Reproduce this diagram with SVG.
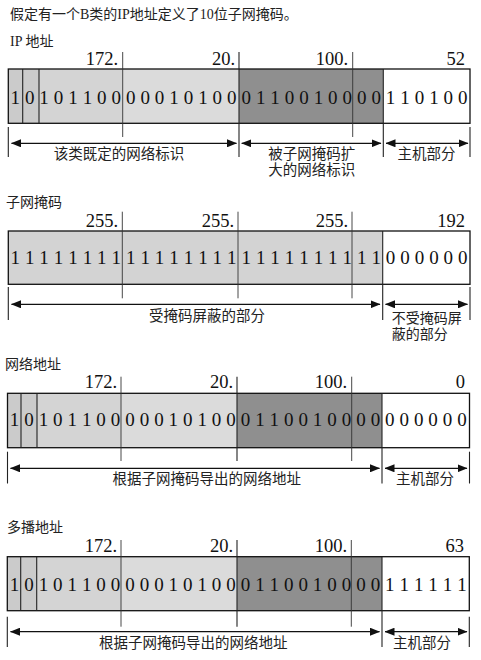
<svg xmlns="http://www.w3.org/2000/svg" width="481" height="660" viewBox="0 0 481 660">
<defs>
<style>
.cap{font-family:"Liberation Serif","Noto Sans CJK SC",serif;font-size:14px;fill:#222}
.lbl{font-family:"Noto Sans CJK SC",sans-serif;font-size:14.5px;fill:#222;text-anchor:middle}
.lbl2{font-family:"Noto Sans CJK SC",sans-serif;font-size:14px;fill:#222}
.num{font-family:"Liberation Serif",serif;font-size:18.5px;fill:#111;text-anchor:end}
.bits{font-family:"Liberation Serif",serif;font-size:19px;fill:#111;text-anchor:middle}
.box{fill:none;stroke:#111;stroke-width:1.3}
.div{stroke:#222;stroke-width:1.1}
.thin{stroke:#333;stroke-width:0.9}
.arr{stroke:#111;stroke-width:1.2;fill:none;marker-start:url(#ah);marker-end:url(#ah)}
.l1{fill:#cbcbcb}.l2{fill:#d4d4d4}.l3{fill:#dbdbdb}.dk{fill:#8f8f8f}.wh{fill:#fff}.mk{fill:#d3d3d3}
</style>
<marker id="ah" viewBox="0 0 10 8" refX="9.5" refY="4" markerWidth="10" markerHeight="8" markerUnits="userSpaceOnUse" orient="auto-start-reverse">
<path d="M0,0 L10,4 L0,8 Z" fill="#111"/>
</marker>
</defs>
<rect width="481" height="660" fill="#fff"/>
<text class="cap" x="10" y="19">假定有一个B类的IP地址定义了10位子网掩码。</text>

<g id="ip-address">
<text class="cap" x="10" y="46">IP 地址</text>
<text class="num" x="118" y="65">172.</text>
<text class="num" x="235" y="65">20.</text>
<text class="num" x="348" y="65">100.</text>
<text class="num" x="465" y="65">52</text>
<rect class="l1" x="8.3" y="69" width="30.7" height="54.3"/>
<rect class="l2" x="39" y="69" width="83.7" height="54.3"/>
<rect class="l3" x="122.7" y="69" width="116.3" height="54.3"/>
<rect class="dk" x="239" y="69" width="144.3" height="54.3"/>
<rect class="wh" x="383.3" y="69" width="86.7" height="54.3"/>
<rect class="box" x="8.3" y="69" width="461.7" height="54.3"/>
<line class="div" x1="22.7" y1="69" x2="22.7" y2="123.3"/>
<line class="div" x1="39" y1="69" x2="39" y2="123.3"/>
<line class="thin" x1="122.7" y1="52" x2="122.7" y2="137"/>
<line class="div" x1="239" y1="52" x2="239" y2="157"/>
<line class="thin" x1="352.7" y1="52" x2="352.7" y2="137"/>
<line class="div" x1="383.3" y1="69" x2="383.3" y2="157"/>
<line class="div" x1="8.3" y1="127" x2="8.3" y2="157"/>
<line class="div" x1="470" y1="127" x2="470" y2="157"/>
<text class="bits" y="103.5" x="15.2 29.7 44.1 58.5 73 87.4 101.8 116.3 130.7 145.2 159.6 174 188.5 202.9 217.3 231.8 246.2 260.7 275.1 289.5 304 318.4 332.8 347.3 361.7 376.2 390.6 405 419.5 433.9 448.3 462.8">10101100000101000110010000110100</text>
<text class="lbl" x="119" y="159">该类既定的网络标识</text>
<text class="lbl" x="311.7" y="158.5"><tspan x="311.7">被子网掩码扩</tspan><tspan x="311.7" dy="16.5">大的网络标识</tspan></text>
<text class="lbl" x="426.5" y="159">主机部分</text>
</g>

<g id="subnet-mask">
<text class="cap" x="6" y="207">子网掩码</text>
<text class="num" x="118" y="226.7">255.</text>
<text class="num" x="234" y="226.7">255.</text>
<text class="num" x="348" y="226.7">255.</text>
<text class="num" x="465" y="226.7">192</text>
<rect class="mk" x="8.3" y="231" width="374.4" height="53.3"/>
<rect class="wh" x="382.7" y="231" width="87.3" height="53.3"/>
<rect class="box" x="8.3" y="231" width="461.7" height="53.3"/>
<line class="thin" x1="122.3" y1="211.7" x2="122.3" y2="298.3"/>
<line class="thin" x1="238" y1="211.7" x2="238" y2="298.3"/>
<line class="thin" x1="352" y1="211.7" x2="352" y2="298.3"/>
<line class="div" x1="382.7" y1="231" x2="382.7" y2="320"/>
<line class="div" x1="8.3" y1="287" x2="8.3" y2="320"/>
<line class="div" x1="470" y1="287" x2="470" y2="320"/>
<text class="bits" y="264.3" x="15.2 29.7 44.1 58.5 73 87.4 101.8 116.3 130.7 145.2 159.6 174 188.5 202.9 217.3 231.8 246.2 260.7 275.1 289.5 304 318.4 332.8 347.3 361.7 376.2 390.6 405 419.5 433.9 448.3 462.8">11111111111111111111111111000000</text>
<text class="lbl" x="207" y="321">受掩码屏蔽的部分</text>
<text class="lbl2" x="391.7" y="322.5"><tspan x="391.7">不受掩码屏</tspan><tspan x="391.7" dy="16.5">蔽的部分</tspan></text>
</g>

<g id="network-address">
<text class="cap" x="5" y="368.5">网络地址</text>
<text class="num" x="117" y="388.3">172.</text>
<text class="num" x="233" y="388.3">20.</text>
<text class="num" x="347" y="388.3">100.</text>
<text class="num" x="465" y="388.3">0</text>
<rect class="l1" x="7.5" y="393.3" width="29.5" height="54.4"/>
<rect class="l2" x="37" y="393.3" width="84" height="54.4"/>
<rect class="l3" x="121" y="393.3" width="116" height="54.4"/>
<rect class="dk" x="237" y="393.3" width="145" height="54.4"/>
<rect class="wh" x="382" y="393.3" width="87.5" height="54.4"/>
<rect class="box" x="7.5" y="393.3" width="462" height="54.4"/>
<line class="div" x1="21" y1="393.3" x2="21" y2="447.7"/>
<line class="div" x1="37" y1="393.3" x2="37" y2="447.7"/>
<line class="thin" x1="121" y1="376.7" x2="121" y2="461"/>
<line class="div" x1="237" y1="376.7" x2="237" y2="461"/>
<line class="thin" x1="351.7" y1="376.7" x2="351.7" y2="461"/>
<line class="div" x1="382" y1="393.3" x2="382" y2="483.5"/>
<line class="div" x1="7.5" y1="451.7" x2="7.5" y2="483.5"/>
<line class="div" x1="469.5" y1="451.7" x2="469.5" y2="483.5"/>
<text class="bits" y="426" x="14.5 29 43.4 57.8 72.3 86.7 101.1 115.6 130 144.4 158.9 173.3 187.7 202.2 216.6 231 245.5 259.9 274.3 288.8 303.2 317.6 332.1 346.5 360.9 375.4 389.8 404.2 418.7 433.1 447.5 462">10101100000101000110010000000000</text>
<text class="lbl" x="206.7" y="484">根据子网掩码导出的网络地址</text>
<text class="lbl" x="425" y="484">主机部分</text>
</g>

<g id="multicast-address">
<text class="cap" x="7" y="532">多播地址</text>
<text class="num" x="117" y="551.7">172.</text>
<text class="num" x="233" y="551.7">20.</text>
<text class="num" x="347" y="551.7">100.</text>
<text class="num" x="464" y="551.7">63</text>
<rect class="l1" x="7.3" y="556.7" width="29.4" height="54"/>
<rect class="l2" x="36.7" y="556.7" width="84.3" height="54"/>
<rect class="l3" x="121" y="556.7" width="116" height="54"/>
<rect class="dk" x="237" y="556.7" width="145" height="54"/>
<rect class="wh" x="382" y="556.7" width="87.3" height="54"/>
<rect class="box" x="7.3" y="556.7" width="462" height="54"/>
<line class="div" x1="20.7" y1="556.7" x2="20.7" y2="610.7"/>
<line class="div" x1="36.7" y1="556.7" x2="36.7" y2="610.7"/>
<line class="thin" x1="121" y1="540" x2="121" y2="626.7"/>
<line class="div" x1="237" y1="540" x2="237" y2="626.7"/>
<line class="thin" x1="351.3" y1="540" x2="351.3" y2="626.7"/>
<line class="div" x1="382" y1="556.7" x2="382" y2="647"/>
<line class="div" x1="7.3" y1="616.7" x2="7.3" y2="647"/>
<line class="div" x1="469.3" y1="616.7" x2="469.3" y2="647"/>
<text class="bits" y="591" x="14.5 29 43.4 57.8 72.3 86.7 101.1 115.6 130 144.4 158.9 173.3 187.7 202.2 216.6 231 245.5 259.9 274.3 288.8 303.2 317.6 332.1 346.5 360.9 375.4 389.8 404.2 418.7 433.1 447.5 462">10101100000101000110010000111111</text>
<text class="lbl" x="193.3" y="648">根据子网掩码导出的网络地址</text>
<text class="lbl" x="422" y="648">主机部分</text>
</g>

<g id="connectors">
<line class="arr" x1="11.5" y1="143.3" x2="236.5" y2="143.3"/>
<line class="arr" x1="241.7" y1="143.3" x2="381" y2="143.3"/>
<line class="arr" x1="386" y1="143.3" x2="468" y2="143.3"/>
<line class="arr" x1="11.5" y1="304.3" x2="380" y2="304.3"/>
<line class="arr" x1="385.5" y1="304.3" x2="467.5" y2="304.3"/>
<line class="arr" x1="10.5" y1="468.3" x2="379.5" y2="468.3"/>
<line class="arr" x1="385" y1="468.3" x2="467" y2="468.3"/>
<line class="arr" x1="10.5" y1="631.7" x2="379.5" y2="631.7"/>
<line class="arr" x1="385" y1="631.7" x2="467" y2="631.7"/>
</g>
</svg>
